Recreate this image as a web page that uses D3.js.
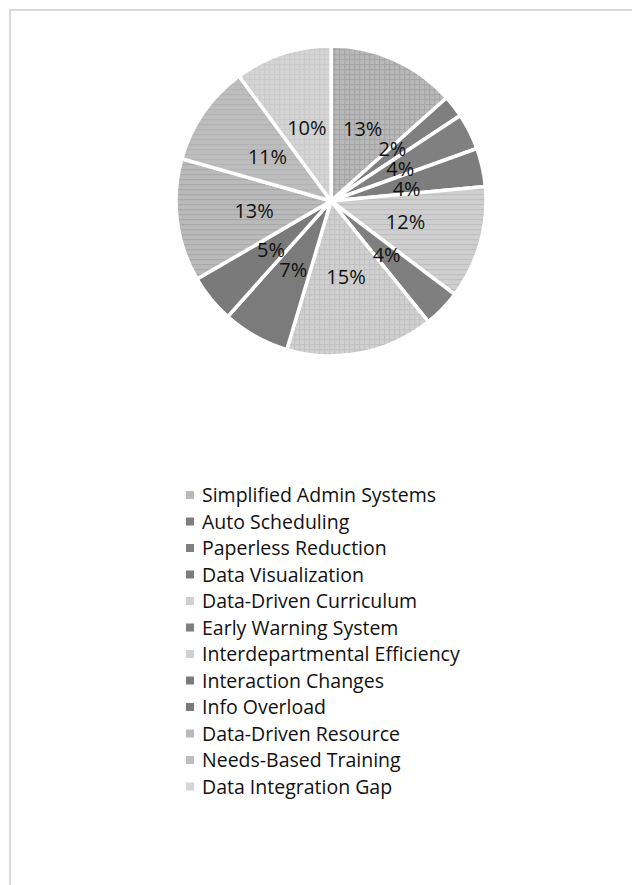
<!DOCTYPE html>
<html>
<head>
<meta charset="utf-8">
<script src="https://cdn.jsdelivr.net/npm/d3@7"></script>
<style>
  body { margin: 0; background: #fff; }
  svg { display: block; }
</style>
</head>
<body>
<svg id="chart"></svg>
<script>
const categories = [
  "Simplified Admin Systems",
  "Auto Scheduling",
  "Paperless Reduction",
  "Data Visualization",
  "Data-Driven Curriculum",
  "Early Warning System",
  "Interdepartmental Efficiency",
  "Interaction Changes",
  "Info Overload",
  "Data-Driven Resource",
  "Needs-Based Training",
  "Data Integration Gap",
];
const shares = [13.4, 2.3, 3.8, 4.0, 11.8, 3.9, 15.4, 7.0, 5.0, 12.8, 10.5, 10.1];

// grey fills that stand in for the Excel pattern fills
const fills = [
  { kind: "plaid", base: "#b9b9b9", line: "#a6a6a6" },
  { kind: "solid", base: "#7f7f7f" },
  { kind: "solid", base: "#808080" },
  { kind: "solid", base: "#7d7d7d" },
  { kind: "hstripe", base: "#cfcfcf", line: "#bfbfbf" },
  { kind: "solid", base: "#7f7f7f" },
  { kind: "plaid", base: "#d1d1d1", line: "#c2c2c2" },
  { kind: "solid", base: "#7b7b7b" },
  { kind: "solid", base: "#7a7a7a" },
  { kind: "hstripe", base: "#bababa", line: "#a9a9a9" },
  { kind: "hstripe", base: "#bdbdbd", line: "#b3b3b3" },
  { kind: "plaid", base: "#d5d5d5", line: "#cbcbcb" },
];

const width = 632;
const height = 885;
const font = "'Open Sans', sans-serif";

const svg = d3.select("#chart").attr("width", width).attr("height", height);

// chart frame (runs off the right and bottom of the page)
svg.append("rect")
  .attr("x", 10)
  .attr("y", 10)
  .attr("width", 700)
  .attr("height", 1000)
  .attr("fill", "none")
  .attr("stroke", "#d9d9d9")
  .attr("stroke-width", 2);

// patterns
const defs = svg.append("defs");
fills.forEach((f, i) => {
  const p = defs.append("pattern")
    .attr("id", "fill" + i)
    .attr("patternUnits", "userSpaceOnUse")
    .attr("width", 5)
    .attr("height", 5);
  p.append("rect").attr("width", 5).attr("height", 5).attr("fill", f.base);
  if (f.kind === "hstripe" || f.kind === "plaid") {
    p.append("rect").attr("y", 3).attr("width", 5).attr("height", 1.2).attr("fill", f.line);
  }
  if (f.kind === "plaid") {
    p.append("rect").attr("x", 3).attr("width", 1.2).attr("height", 5).attr("fill", f.line);
  }
});

const cx = 331;
const cy = 201;
const radius = 155;

const pie = d3.pie().sort(null).value((d) => d);
const arcs = pie(shares);

const arc = d3.arc().innerRadius(0).outerRadius(radius);

const g = svg.append("g").attr("transform", `translate(${cx}, ${cy})`);

g.selectAll(".slice")
  .data(arcs)
  .enter()
  .append("path")
  .attr("class", "slice")
  .attr("d", arc)
  .attr("fill", (d, i) => `url(#fill${i})`)
  .attr("stroke", "#fff")
  .attr("stroke-width", 3.5)
  .attr("stroke-linejoin", "round");

// label spots at half radius, then spread crowded ones apart vertically
const minGap = 20;
const spots = arcs.map((d) => {
  const c = arc.centroid(d);
  return { x: c[0], y: c[1], w: 38 };
});
for (let k = 0; k < 30; k++) {
  for (let i = 0; i < spots.length; i++) {
    for (let j = i + 1; j < spots.length; j++) {
      const a = spots[i], b = spots[j];
      if (Math.abs(a.x - b.x) > (a.w + b.w) / 2 - 4) continue;
      const gap = Math.abs(a.y - b.y);
      if (gap >= minGap) continue;
      const push = (minGap - gap) / 2;
      if (a.y <= b.y) { a.y -= push; b.y += push; } else { a.y += push; b.y -= push; }
    }
  }
}

g.selectAll(".pct")
  .data(arcs)
  .enter()
  .append("text")
  .attr("class", "pct")
  .attr("x", (d, i) => spots[i].x)
  .attr("y", (d, i) => spots[i].y)
  .attr("text-anchor", "middle")
  .attr("dy", "0.36em")
  .attr("font-family", font)
  .attr("font-size", 20)
  .attr("fill", "#111")
  .text((d) => Math.round(d.value) + "%");

// legend
const legend = svg.append("g").attr("transform", "translate(186, 495)");
const rowH = 26.5;

const rows = legend.selectAll(".row")
  .data(categories)
  .enter()
  .append("g")
  .attr("class", "row")
  .attr("transform", (d, i) => `translate(0, ${i * rowH})`);

rows.append("rect")
  .attr("x", 0)
  .attr("y", -4)
  .attr("width", 8)
  .attr("height", 8)
  .attr("fill", (d, i) => fills[i].base);

rows.append("text")
  .attr("x", 16)
  .attr("dy", "0.36em")
  .attr("font-family", font)
  .attr("font-size", 19.5)
  .attr("fill", "#111")
  .text((d) => d);
</script>
</body>
</html>
